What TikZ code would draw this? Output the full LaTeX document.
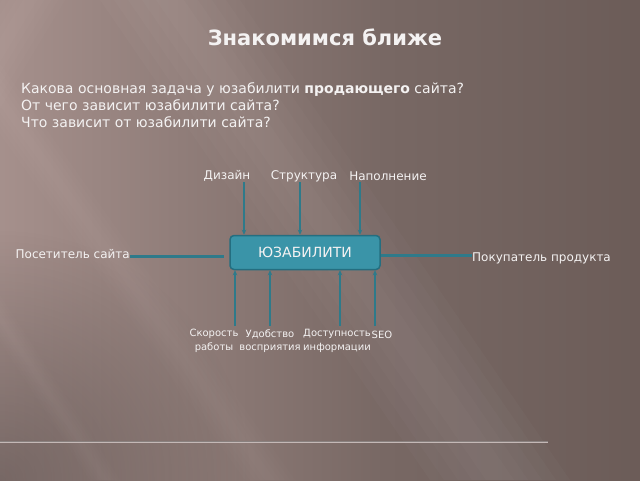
\documentclass[tikz,border=0pt]{standalone}
\usepackage{fontspec}
\setmainfont{DejaVu Sans}
\usetikzlibrary{arrows.meta,fadings}
\definecolor{bgA}{RGB}{186,161,157}
\definecolor{bgB}{RGB}{170,148,144}
\definecolor{bgC}{RGB}{120,104,100}
\definecolor{bgD}{RGB}{92,77,73}
\definecolor{txt}{RGB}{244,242,242}
\definecolor{arrcol}{RGB}{46,122,138}
\definecolor{boxfill}{RGB}{58,148,168}
\definecolor{boxdraw}{RGB}{36,110,128}
\definecolor{sepcol}{RGB}{196,184,182}
\pgfdeclarehorizontalshading{bgshade}{100bp}{color(0bp)=(bgA); color(22bp)=(bgB); color(55bp)=(bgC); color(100bp)=(bgD)}
\tikzfading[name=softc, inner color=transparent!0, outer color=transparent!100]
\begin{document}
\begin{tikzpicture}[x=1pt,y=-1pt,
  lbl/.style={text=txt, inner sep=0pt, font=\fontsize{12}{14}\selectfont},
  small/.style={text=txt, inner sep=0pt, align=center, font=\fontsize{10}{13.5}\selectfont},
  arr/.style={draw=arrcol, line width=1.4pt, -{Stealth[length=5pt,width=4.5pt]}},
  hline/.style={draw=arrcol, line width=3pt},
  box/.style={draw=boxdraw, fill=boxfill, line width=1.5pt, rounded corners=4pt,
    minimum width=150pt, minimum height=34pt, text=txt, inner sep=0pt,
    font=\fontsize{14}{16}\selectfont}
]
\useasboundingbox (0,0) rectangle (640,480);
% background
\shade[shading=bgshade] (0,0) rectangle (640,480);
\fill[black, fill opacity=0.28, path fading=softc] (-250,230) rectangle (250,730);
\foreach \w in {1.0,0.8,0.6,0.4,0.2} {
  \fill[white, fill opacity=0.018] ({170-\w*70},0) -- ({170+\w*70},0) -- ({500+\w*70},480) -- ({500-\w*70},480) -- cycle;
  \fill[white, fill opacity=0.015] ({30-\w*35},0) -- ({30+\w*35},0) -- ({-150+\w*35},300) -- ({-150-\w*35},300) -- cycle;
  \fill[white, fill opacity=0.012] ({-30-\w*15},272) -- ({-30+\w*15},272) -- ({105+\w*15},480) -- ({105-\w*15},480) -- cycle;
  \fill[white, fill opacity=0.012] ({-70-\w*25},0) -- ({-70+\w*25},0) -- ({270+\w*25},480) -- ({270-\w*25},480) -- cycle;
}
% title and questions
\node[text=txt, inner sep=0pt, font=\fontsize{21}{24}\selectfont\bfseries] (title) at (325,37) {Знакомимся ближе};
\node[text=txt, inner sep=0pt, anchor=west, align=left, font=\fontsize{14}{17}\selectfont] (q) at (21,105)
  {Какова основная задача у юзабилити \textbf{продающего} сайта?\\От чего зависит юзабилити сайта?\\Что зависит от юзабилити сайта?};
% central box
\node[box] (u) at (305,252.5) {ЮЗАБИЛИТИ};
% top labels and arrows
\node[lbl] (d) at (227,176) {Дизайн};
\node[lbl] (s) at (304,176) {Структура};
\node[lbl] (n) at (388,176) {Наполнение};
\coordinate (da) at (244,182);
\coordinate (sa) at (300,182);
\coordinate (na) at (360,182);
\draw[arr] (da) -- (da |- u.north);
\draw[arr] (sa) -- (sa |- u.north);
\draw[arr] (na) -- (na |- u.north);
% side labels and lines
\node[lbl, anchor=east] (v) at (130,254) {Посетитель сайта};
\node[lbl, anchor=west] (p) at (472,258) {Покупатель продукта};
\coordinate (vl) at (130,256);
\coordinate (pl) at (472,255.5);
\draw[hline, shorten >=5pt] (vl) -- (vl -| u.west);
\draw[hline] (pl -| u.east) -- (pl);
% bottom labels and arrows
\node[small] (b1) at (214,341) {Скорость\\работы};
\node[small] (b2) at (270,341) {Удобство\\восприятия};
\node[small] (b3) at (337,341) {Доступность\\информации};
\node[small] (b4) at (382,335) {SEO};
\coordinate (b1a) at (235,326);
\coordinate (b2a) at (270,326);
\coordinate (b3a) at (340,326);
\coordinate (b4a) at (375,326);
\draw[arr] (b1a) -- (b1a |- u.south);
\draw[arr] (b2a) -- (b2a |- u.south);
\draw[arr] (b3a) -- (b3a |- u.south);
\draw[arr] (b4a) -- (b4a |- u.south);
% separator
\coordinate (s1) at (0,442);
\coordinate (s2) at (548,442);
\draw[draw=sepcol!70!black, line width=2.2pt] (s1) -- (s2);
\draw[draw=sepcol, line width=1pt] (s1) -- (s2);
\end{tikzpicture}
\end{document}
